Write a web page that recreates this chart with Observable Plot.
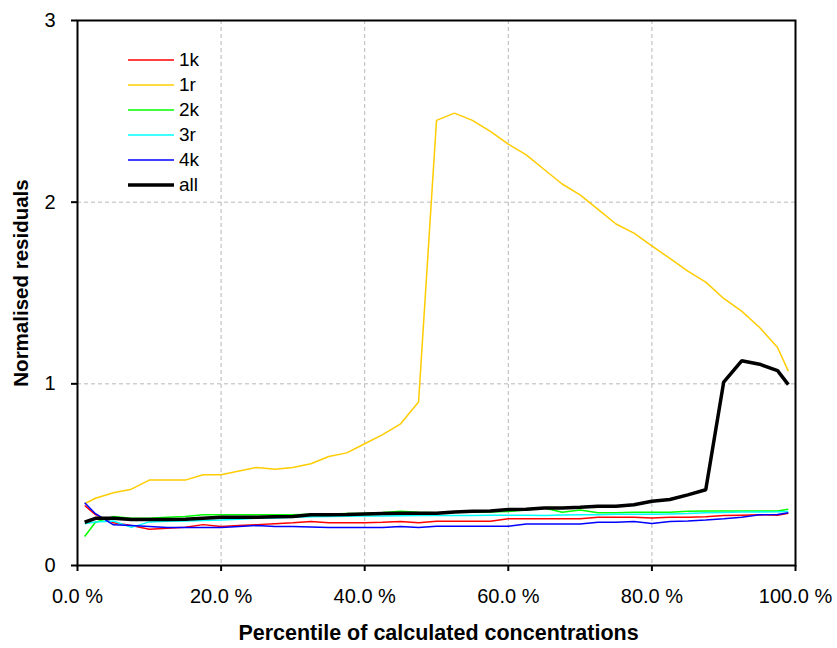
<!DOCTYPE html>
<html>
<head>
<meta charset="utf-8">
<script src="https://cdn.jsdelivr.net/npm/d3@7"></script>
<script src="https://cdn.jsdelivr.net/npm/@observablehq/plot@0.6"></script>
<style>
  html, body { margin: 0; padding: 0; background: white; }
  #chart { position: relative; width: 837px; height: 648px; }
  #legend { position: absolute; left: 128px; top: 47px; font-family: "Liberation Sans", Arial, sans-serif; font-size: 19px; }
  .row { display: flex; align-items: center; height: 25px; }
  .sw { width: 46px; margin-right: 5px; }
</style>
</head>
<body>
<div id="chart"><div id="legend"></div></div>
<script>
const percentiles = [1,2.5,5,7.5,10,12.5,15,17.5,20,22.5,25,27.5,30,32.5,35,37.5,40,42.5,45,47.5,50,52.5,55,57.5,60,62.5,65,67.5,70,72.5,75,77.5,80,82.5,85,87.5,90,92.5,95,97.5,99];

const s1k = [0.33,0.28,0.235,0.22,0.20,0.205,0.21,0.225,0.215,0.22,0.225,0.23,0.235,0.242,0.235,0.235,0.235,0.238,0.242,0.235,0.244,0.244,0.244,0.244,0.257,0.257,0.257,0.257,0.257,0.266,0.266,0.266,0.262,0.266,0.266,0.268,0.275,0.277,0.279,0.277,0.288];
const s1r = [0.34,0.37,0.40,0.42,0.47,0.47,0.47,0.50,0.50,0.52,0.54,0.53,0.54,0.56,0.60,0.62,0.67,0.72,0.78,0.90,2.45,2.49,2.45,2.39,2.32,2.26,2.18,2.10,2.04,1.96,1.88,1.83,1.76,1.69,1.62,1.56,1.47,1.40,1.31,1.20,1.07];
const s2k = [0.16,0.238,0.27,0.26,0.26,0.265,0.27,0.279,0.279,0.279,0.279,0.279,0.279,0.282,0.284,0.286,0.288,0.292,0.299,0.293,0.29,0.293,0.293,0.295,0.297,0.305,0.317,0.293,0.306,0.29,0.29,0.293,0.293,0.293,0.299,0.30,0.30,0.30,0.30,0.30,0.31];
const s3r = [0.23,0.24,0.245,0.21,0.24,0.243,0.245,0.248,0.25,0.255,0.26,0.262,0.266,0.268,0.27,0.271,0.272,0.273,0.274,0.275,0.275,0.275,0.275,0.277,0.277,0.277,0.275,0.278,0.279,0.28,0.282,0.282,0.282,0.284,0.286,0.29,0.292,0.294,0.295,0.296,0.297];
const s4k = [0.345,0.285,0.224,0.22,0.215,0.209,0.209,0.209,0.209,0.215,0.22,0.215,0.215,0.212,0.209,0.209,0.209,0.209,0.215,0.209,0.216,0.216,0.216,0.216,0.216,0.229,0.229,0.229,0.229,0.238,0.238,0.242,0.231,0.242,0.245,0.25,0.257,0.265,0.279,0.281,0.29];
const sAll = [0.238,0.26,0.26,0.253,0.253,0.253,0.255,0.26,0.265,0.265,0.266,0.268,0.27,0.279,0.28,0.281,0.284,0.286,0.288,0.288,0.288,0.295,0.298,0.30,0.308,0.31,0.317,0.317,0.32,0.326,0.326,0.334,0.354,0.363,0.389,0.417,1.01,1.127,1.108,1.073,0.996];

const seriesNames = ["1k","1r","2k","3r","4k","all"];
const seriesValues = [s1k, s1r, s2k, s3r, s4k, sAll];
const seriesColors = ["#ff0000","#ffcc00","#00ff00","#00ffff","#0000ff","#000000"];
const seriesWidths = [1.5,1.5,1.5,1.5,1.5,3.5];

const xTicks = [0,20,40,60,80,100];
const yTicks = [0,1,2,3];
const xTitle = "Percentile of calculated concentrations";
const yTitle = "Normalised residuals";

const font = "'Liberation Sans', Arial, sans-serif";

const lineMarks = seriesNames.map((name, i) =>
  Plot.line(percentiles.map((p, j) => ({pct: p, value: seriesValues[i][j]})),
    {x: "pct", y: "value", stroke: seriesColors[i], strokeWidth: seriesWidths[i], strokeLinejoin: "miter", strokeLinecap: "butt"})
);

const chart = Plot.plot({
  width: 837,
  height: 648,
  marginLeft: 77,
  marginRight: 42,
  marginTop: 20,
  marginBottom: 83,
  style: {fontFamily: font, fontSize: "20px", background: "white", color: "black", overflow: "visible"},
  x: {domain: [0, 100]},
  y: {domain: [0, 3]},
  marks: [
    Plot.gridX([20,40,60,80], {stroke: "#b8b8b8", strokeOpacity: 1, strokeWidth: 1, strokeDasharray: "4,3"}),
    Plot.gridY([1,2], {stroke: "#b8b8b8", strokeOpacity: 1, strokeWidth: 1, strokeDasharray: "4,3"}),
    Plot.axisX(xTicks, {tickSize: 6, tickPadding: 17, tickFormat: d => d.toFixed(1) + " %", label: null, strokeWidth: 2, fontSize: 20}),
    Plot.axisY(yTicks, {tickSize: 6, tickPadding: 16, tickFormat: d => String(d), label: null, strokeWidth: 2, fontSize: 20}),
    ...lineMarks,
    Plot.frame({stroke: "black", strokeWidth: 2}),
    Plot.text([xTitle], {frameAnchor: "bottom", textAnchor: "middle", lineAnchor: "middle", dx: 2, dy: 68, fontWeight: "bold", fontSize: 21.5}),
    Plot.text([yTitle], {frameAnchor: "left", textAnchor: "middle", lineAnchor: "middle", dx: -56, dy: -10, rotate: -90, fontWeight: "bold", fontSize: 20.5})
  ]
});

const container = document.getElementById("chart");
container.insertBefore(chart, container.firstChild);

const legend = document.getElementById("legend");
seriesNames.forEach((name, i) => {
  const row = document.createElement("div");
  row.className = "row";
  row.innerHTML = `<svg class="sw" width="46" height="10"><line x1="0" x2="46" y1="5" y2="5" stroke="${seriesColors[i]}" stroke-width="${i === 5 ? 3.5 : 1.5}"/></svg><span>${name}</span>`;
  legend.appendChild(row);
});
</script>
</body>
</html>
